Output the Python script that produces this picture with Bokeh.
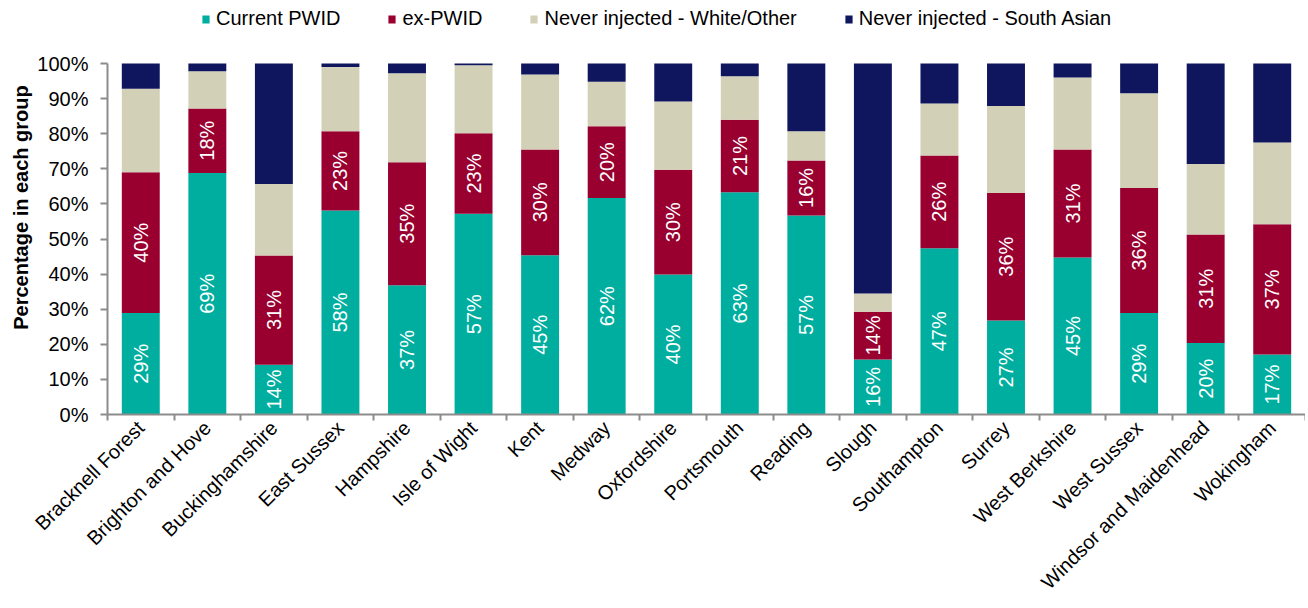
import math
from bokeh.plotting import figure
from bokeh.models import ColumnDataSource, FixedTicker, Range1d, Legend, LegendItem
from bokeh.core.properties import value
from bokeh.embed import file_html
from bokeh.resources import INLINE

areas = ["Bracknell Forest", "Brighton and Hove", "Buckinghamshire", "East Sussex",
         "Hampshire", "Isle of Wight", "Kent", "Medway", "Oxfordshire", "Portsmouth",
         "Reading", "Slough", "Southampton", "Surrey", "West Berkshire", "West Sussex",
         "Windsor and Maidenhead", "Wokingham"]
current_pwid = [28.9, 68.8, 14.2, 58.1, 36.8, 57.2, 45.4, 61.7, 39.9, 63.3,
                56.7, 15.7, 47.4, 26.8, 44.7, 28.9, 20.4, 17.1]
ex_pwid = [40.1, 18.4, 31.1, 22.6, 35.1, 22.9, 30.1, 20.4, 29.8, 20.7,
           15.7, 13.6, 26.4, 36.3, 30.8, 35.6, 30.9, 37.1]
never_white = [23.8, 10.6, 20.4, 18.3, 25.3, 19.4, 21.4, 12.7, 19.5, 12.4,
               8.3, 5.2, 14.8, 24.8, 20.5, 27.0, 20.1, 23.3]
never_south_asian = [7.2, 2.2, 34.3, 1.0, 2.8, 0.5, 3.1, 5.2, 10.8, 3.6,
                     19.3, 65.5, 11.4, 12.1, 4.0, 8.5, 28.6, 22.5]
series_names = ["Current PWID", "ex-PWID", "Never injected - White/Other",
                "Never injected - South Asian"]
colors = ["#00AE9F", "#990030", "#D2D1B7", "#10165E"]
y_ticks = [0, 10, 20, 30, 40, 50, 60, 70, 80, 90, 100]

FONT = "Liberation Sans"
n = len(areas)
xs = [i + 0.5 for i in range(n)]

source = ColumnDataSource(dict(x=xs, cur=current_pwid, ex=ex_pwid,
                               white=never_white, sa=never_south_asian))

WIDTH = 1305
HEIGHT = 606
BORDER_BOTTOM = 192
FRAME_H = HEIGHT - BORDER_BOTTOM          # frame starts at the very top
PX_PER_UNIT = 3.51                        # 100% spans 351 px
Y_TOP = FRAME_H / PX_PER_UNIT             # room above 100% for the legend

p = figure(width=WIDTH, height=HEIGHT, output_backend="svg", toolbar_location=None,
           x_range=Range1d(0, n), y_range=Range1d(0, Y_TOP))
p.min_border_left = 107
p.min_border_top = 0
p.min_border_right = 0
p.min_border_bottom = BORDER_BOTTOM
p.outline_line_color = None
p.grid.visible = False
p.background_fill_color = "white"
p.border_fill_color = "white"

renderers = p.vbar_stack(["cur", "ex", "white", "sa"], x="x", width=0.57, color=colors,
                         line_color=None, source=source)

# segment labels
lab_x = xs + xs
lab_y = [c / 2 for c in current_pwid] + [c + e / 2 for c, e in zip(current_pwid, ex_pwid)]
lab_t = [f"{round(c)}%" for c in current_pwid] + [f"{round(e)}%" for e in ex_pwid]
p.text(x=lab_x, y=lab_y, text=lab_t, angle=math.pi / 2, text_align="center",
       text_baseline="middle", text_color="white", text_font=value(FONT),
       text_font_size="20px")

axis_color = "#8C8C8C"
# y axis
yax = p.yaxis[0]
yax.bounds = (0, 100)
yax.ticker = FixedTicker(ticks=y_ticks)
yax.major_label_overrides = {v: f"{v}%" for v in y_ticks}
yax.axis_line_color = axis_color
yax.axis_line_width = 2
yax.major_tick_line_color = axis_color
yax.major_tick_line_width = 2
yax.major_tick_out = 7
yax.major_tick_in = 0
yax.minor_tick_line_color = None
yax.major_label_text_font = FONT
yax.major_label_text_font_size = "20px"
yax.major_label_text_color = "black"
yax.major_label_standoff = 12
yax.axis_label = "Percentage in each group"
yax.axis_label_text_font = FONT
yax.axis_label_text_font_style = "bold"
yax.axis_label_text_font_size = "20px"
yax.axis_label_text_color = "black"
yax.axis_label_standoff = 2

# x axis
xax = p.xaxis[0]
xax.ticker = FixedTicker(ticks=xs, minor_ticks=list(range(n + 1)))
xax.major_label_overrides = {x: a for x, a in zip(xs, areas)}
xax.major_label_orientation = math.pi / 4
xax.axis_line_color = axis_color
xax.axis_line_width = 2
xax.major_tick_line_color = None
xax.major_tick_out = 0
xax.major_tick_in = 0
xax.minor_tick_line_color = axis_color
xax.minor_tick_line_width = 2
xax.minor_tick_out = 6
xax.minor_tick_in = 0
xax.major_label_text_font = FONT
xax.major_label_text_font_size = "20px"
xax.major_label_text_color = "black"
xax.major_label_standoff = 4

# legend, in the headroom above 100%
lg = Legend(items=[LegendItem(label=name, renderers=[r]) for name, r in zip(series_names, renderers)])
lg.orientation = "horizontal"
lg.location = (94, FRAME_H - 30)
lg.padding = 0
lg.margin = 0
lg.spacing = 47
lg.label_standoff = 6
lg.glyph_width = 9
lg.glyph_height = 10
lg.border_line_color = None
lg.background_fill_alpha = 0
lg.label_text_font = FONT
lg.label_text_font_size = "20px"
lg.label_text_color = "black"
p.add_layout(lg, "center")

open("out.html", "w").write(file_html(p, INLINE))
